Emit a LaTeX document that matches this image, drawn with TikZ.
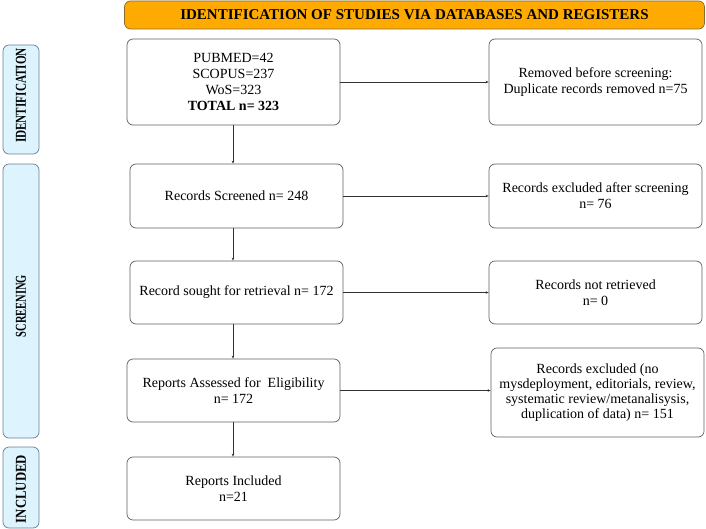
\documentclass[tikz,border=0pt]{standalone}
\usepackage{fontspec}
\setmainfont{Liberation Serif}
\usetikzlibrary{arrows.meta}
\definecolor{hdr}{HTML}{FFAA00}
\definecolor{hdrline}{HTML}{8A6A2A}
\definecolor{side}{HTML}{DDF4FF}
\definecolor{sideline}{HTML}{6A7F95}
\definecolor{boxline}{HTML}{606060}
\newcommand{\sidetxt}[2]{\rotatebox{90}{\resizebox{#1}{10pt}{\bfseries #2}}}
\tikzset{
  box/.style={draw=boxline, line width=0.7pt, rounded corners=6pt, fill=white, align=center, font=\fontsize{14}{16}\selectfont, inner sep=1pt},
  sidebar/.style={draw=sideline, line width=0.7pt, rounded corners=6pt, fill=side, minimum width=36pt, inner sep=0pt},
  conn/.style={draw=black!80, line width=0.5pt, -{Stealth[length=3pt,width=2.5pt]}}
}
\begin{document}
\begin{tikzpicture}[x=1pt,y=-1pt]
\useasboundingbox (0,0) rectangle (706,529);
% header
\node[draw=hdrline, line width=0.7pt, fill=hdr, rounded corners=6pt, minimum width=580pt, minimum height=28pt, font=\fontsize{15}{17}\selectfont\bfseries] (hdr) at (414.5,15) {IDENTIFICATION OF STUDIES VIA DATABASES AND REGISTERS};
% side bars
\node[sidebar, minimum height=109pt] (sid) at (21,99.5) {};
\node at (21,95.5) {\sidetxt{95pt}{IDENTIFICATION}};
\node[sidebar, minimum height=274pt] (ssc) at (21,301) {};
\node at (21,306) {\sidetxt{62pt}{SCREENING}};
\node[sidebar, minimum height=81pt] (sin) at (21,487.5) {};
\node at (21,489) {\sidetxt{68pt}{INCLUDED}};
% left boxes
\node[box, minimum width=213pt, minimum height=86pt] (b1) at (233.5,82) {PUBMED=42\\SCOPUS=237\\WoS=323\\\textbf{TOTAL n= 323}};
\node[box, minimum width=213pt, minimum height=64pt] (b2) at (236.5,196) {Records Screened n= 248};
\node[box, minimum width=213pt, minimum height=63pt] (b3) at (236.5,292.5) {Record sought for retrieval n= 172};
\node[box, minimum width=213pt, minimum height=63pt] (b4) at (233.5,390.5) {Reports Assessed for\ \ Eligibility\\n= 172};
\node[box, minimum width=213pt, minimum height=63pt] (b5) at (233.5,488.5) {Reports Included\\n=21};
% right boxes
\node[box, minimum width=213pt, minimum height=86pt] (r1) at (595.5,82) {Removed before screening:\\Duplicate records removed n=75};
\node[box, minimum width=213pt, minimum height=64pt] (r2) at (595.5,196) {Records excluded after screening\\n= 76};
\node[box, minimum width=213pt, minimum height=63pt] (r3) at (595.5,292.5) {Records not retrieved\\n= 0};
\node[box, minimum width=213pt, minimum height=89pt, font=\fontsize{14}{15}\selectfont] (r4) at (597.5,392.5) {Records excluded (no\\mysdeployment, editorials, review,\\systematic review/metanalisysis,\\duplication of data) n= 151};
% connectors
\draw[conn] (b1.south -| 233,0) -- (b2.north -| 233,0);
\draw[conn] (b2.south -| 233,0) -- (b3.north -| 233,0);
\draw[conn] (b3.south -| 233,0) -- (b4.north -| 233,0);
\draw[conn] (b4.south -| 233,0) -- (b5.north -| 233,0);
\draw[conn] (b1.east) -- (r1.west |- b1.east);
\draw[conn] (b2.east) -- (r2.west |- b2.east);
\draw[conn] (b3.east) -- (r3.west |- b3.east);
\draw[conn] (b4.east) -- (r4.west |- b4.east);
\end{tikzpicture}
\end{document}
